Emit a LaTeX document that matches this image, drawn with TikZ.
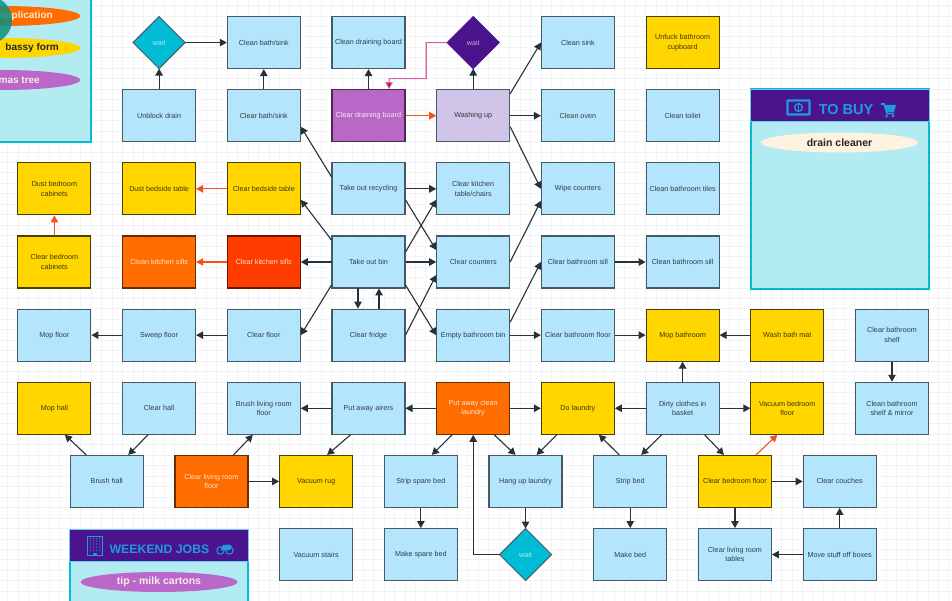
\documentclass[tikz,border=0pt]{standalone}
\usepackage{fontspec}
\setmainfont{Liberation Sans}
\usepackage{xcolor}
\usetikzlibrary{positioning,arrows.meta,shapes.geometric}
\definecolor{cgrid}{HTML}{F1F3F6}
\definecolor{cline}{HTML}{263238}
\definecolor{cblue}{HTML}{B3E5FC}
\definecolor{cedge}{HTML}{455A64}
\definecolor{ctext}{HTML}{2F3F47}
\definecolor{cyellow}{HTML}{FFD600}
\definecolor{corange}{HTML}{FF6D00}
\definecolor{cred}{HTML}{FF3D00}
\definecolor{cpurple}{HTML}{BA68C8}
\definecolor{clav}{HTML}{D1C4E9}
\definecolor{cteal}{HTML}{00BCD4}
\definecolor{cdeep}{HTML}{4A148C}
\definecolor{carrow}{HTML}{F4511E}
\definecolor{cpink}{HTML}{D4609F}
\definecolor{cpanel}{HTML}{B2EBF2}
\definecolor{cicon}{HTML}{1E9BDC}
\definecolor{ccream}{HTML}{FFF3E0}
\definecolor{cfab}{HTML}{0E8F80}
\tikzset{
  tb/.style  = {draw=cedge, fill=cblue, line width=1.15pt, minimum width=73pt, minimum height=52pt,
                inner sep=0pt, outer sep=.5pt, align=center,
                font=\fontsize{7.2}{9.7}\selectfont, text=ctext},
  ty/.style  = {tb, draw=black!70!cyellow, fill=cyellow, text=black!75!cyellow},
  tor/.style = {tb, draw=black!60!corange, fill=corange, text=orange!20},
  tr/.style  = {tb, draw=black!60!cred, fill=cred, text=orange!25},
  tp/.style  = {tb, draw=black!60!cpurple, fill=cpurple, text=purple!8},
  tl/.style  = {tb, fill=clav, text=black!80},
  w/.style   = {draw=cedge, fill=cteal, line width=1pt, diamond, aspect=1, inner sep=0pt,
                outer sep=0pt, minimum width=52pt, minimum height=52pt,
                font=\fontsize{7.2}{9.7}\selectfont, text=cpanel},
  wd/.style  = {w, draw=cdeep, fill=cdeep, text=cpurple!60},
  a/.style   = {-{Triangle[length=7pt,width=7.5pt]}, line width=1.1pt, draw=cline},
  ao/.style  = {-{Triangle[length=7pt,width=7.5pt]}, line width=1.1pt, draw=carrow},
  ap/.style  = {-{Triangle[length=7pt,width=7.5pt,fill=purple]}, line width=1.1pt, draw=cpink},
  panel/.style = {draw=cteal, fill=cpanel, line width=2pt, minimum width=178pt, outer sep=0pt},
  phead/.style = {draw=cyan!60, fill=cdeep, line width=.7pt, minimum width=179pt,
                  minimum height=32pt, outer sep=0pt},
  ptitle/.style = {text=cicon, inner sep=0pt},
  pill/.style = {ellipse, minimum width=157pt, minimum height=20pt, inner sep=0pt,
                 font=\fontsize{10.5}{12}\selectfont\bfseries},
  pilltext/.style = {anchor=east, inner sep=0pt, font=\fontsize{10}{12}\selectfont\bfseries},
  on grid,
  node distance = 73.14pt and 104.7pt,
  half/.style = {xshift=52.35pt},
  halfl/.style = {xshift=-52.35pt},
}
\begin{document}
\begin{tikzpicture}[x=1pt,y=1pt]

\useasboundingbox (0,0) rectangle (952,600);
\clip (0,0) rectangle (952,600);
\fill[white] (0,0) rectangle (952,600);
\draw[cgrid, line width=.9pt, step=10.46pt, xshift=7.5pt, yshift=8.7pt] (-20,-20) grid (950,600);

% ---- the row through the bin
\node[tb] (bin) at (368.5,338) {Take out bin};
\node[tb, right=of bin]        (counters)  {Clear counters};
\node[tb, right=of counters]   (bathsill)  {Clear bathroom sill};
\node[tb, right=of bathsill]   (bathsillc) {Clean bathroom sill};
\node[tr, left=of bin]         (ksills)    {Clear kitchen sills};
\node[tor, left=of ksills]     (ksillsc)   {Clean kitchen sills};
\node[ty, left=of ksillsc]     (bedcab)    {Clear bedroom\\cabinets};

% ---- upwards
\node[tb, above=of bin]        (recycle)   {Take out recycling};
\node[tb, above=of counters]   (kitchen)   {Clear kitchen\\table/chairs};
\node[tb, above=of bathsill]   (wipe)      {Wipe counters};
\node[tb, above=of bathsillc]  (tiles)     {Clean bathroom tiles};
\node[ty, above=of ksills]     (bedside)   {Clear bedside table};
\node[ty, above=of ksillsc]    (dustside)  {Dust bedside table};
\node[ty, above=of bedcab]     (dustcab)   {Dust bedroom\\cabinets};

\node[tp, above=of recycle]    (board)     {Clear draining board};
\node[tl, above=of kitchen]    (wash)      {Washing up};
\node[tb, above=of wipe]       (oven)      {Clean oven};
\node[tb, above=of tiles]      (toilet)    {Clean toilet};
\node[tb, above=of bedside]    (clearbath) {Clear bath/sink};
\node[tb, above=of dustside]   (unblock)   {Unblock drain};

\node[tb, above=of board]      (boardc)    {Clean draining board};
\node[wd, above=of wash]       (waitwash)  {wait};
\node[tb, above=of oven]       (sink)      {Clean sink};
\node[ty, above=of toilet]     (cupboard)  {Unfuck bathroom\\cupboard};
\node[tb, above=of clearbath]  (cleanbath) {Clean bath/sink};
\node[w,  above=of unblock]    (waitdrain) {wait};

% ---- downwards
\node[tb, below=of bin]        (fridge)    {Clear fridge};
\node[tb, below=of counters]   (emptybin)  {Empty bathroom bin};
\node[tb, below=of bathsill]   (bathfloor) {Clear bathroom floor};
\node[ty, below=of bathsillc]  (mopbath)   {Mop bathroom};
\node[ty, right=of mopbath]    (bathmat)   {Wash bath mat};
\node[tb, right=of bathmat]    (shelf)     {Clear bathroom\\shelf};
\node[tb, below=of ksills]     (floor)     {Clear floor};
\node[tb, left=of floor]       (sweep)     {Sweep floor};
\node[tb, left=of sweep]       (mopfloor)  {Mop floor};

\node[tb, below=of fridge]     (airers)    {Put away airers};
\node[tor, below=of emptybin]  (putaway)   {Put away clean\\laundry};
\node[ty, below=of bathfloor]  (laundry)   {Do laundry};
\node[tb, below=of mopbath]    (dirty)     {Dirty clothes in\\basket};
\node[ty, below=of bathmat]    (vacbed)    {Vacuum bedroom\\floor};
\node[tb, below=of shelf]      (mirror)    {Clean bathroom\\shelf \& mirror};
\node[tb, below=of floor]      (brushroom) {Brush living room\\floor};
\node[tb, below=of sweep]      (clearhall) {Clear hall};
\node[ty, below=of mopfloor]   (mophall)   {Mop hall};

% ---- the two rows set half a column across
\node[tb, below=of mophall, half]    (brushhall) {Brush hall};
\node[tor, below=of brushroom, halfl] (clearroom) {Clear living room\\floor};
\node[ty, below=of airers, halfl]    (rug)       {Vacuum rug};
\node[tb, below=of airers, half]     (stripspare) {Strip spare bed};
\node[tb, below=of putaway, half]    (hang)      {Hang up laundry};
\node[tb, below=of laundry, half]    (stripbed)  {Strip bed};
\node[ty, below=of dirty, half]      (bedfloor)  {Clear bedroom floor};
\node[tb, right=of bedfloor]         (couches)   {Clear couches};

\node[tb, below=of rug]        (stairs)    {Vacuum stairs};
\node[tb, below=of stripspare] (makespare) {Make spare bed};
\node[w,  below=of hang]       (waitdry)   {wait};
\node[tb, below=of stripbed]   (makebed)   {Make bed};
\node[tb, below=of bedfloor]   (tables)    {Clear living room\\tables};
\node[tb, below=of couches]    (boxes)     {Move stuff off boxes};

% ---- top rows
\draw[a] (unblock) -- (waitdrain);
\draw[a] (waitdrain) -- (cleanbath);
\draw[a] (clearbath) -- (cleanbath);
\draw[a] (board) -- (boardc);
\draw[ao] (board) -- (wash);
\draw[a] (wash) -- (waitwash);
\draw[ap] (waitwash.west) -- ++(-21,0) |- ++(-37,-36) -- ([xshift=20.5pt]board.north);
\draw[a] ([yshift=22pt]wash.east) -- (sink.west);
\draw[a] (wash) -- (oven);
\draw[a] ([yshift=-11pt]wash.east) -- (wipe.west);

% ---- around the bin
\draw[a] ([yshift=12pt]recycle.west) -- ([yshift=-11pt]clearbath.east);
\draw[a] (recycle) -- (kitchen);
\draw[a] ([yshift=-11pt]recycle.east) -- ([yshift=12pt]counters.west);
\draw[a] ([yshift=22pt]bin.west) -- ([yshift=-11pt]bedside.east);
\draw[a] (bin) -- (ksills);
\draw[a] ([yshift=-23pt]bin.west) -- (floor.east);
\draw[a] ([yshift=10pt]bin.east) -- ([yshift=-11pt]kitchen.west);
\draw[a] (bin) -- (counters);
\draw[a] ([yshift=-23pt]bin.east) -- (emptybin.west);
\draw[a] ([xshift=-10.5pt]bin.south) -- ([xshift=-10.5pt]fridge.north);
\draw[a] ([xshift=10.5pt]fridge.north) -- ([xshift=10.5pt]bin.south);
\draw[a] (fridge.east) -- ([yshift=-13pt]counters.west);
\draw[a] (counters.east) -- ([yshift=-12pt]wipe.west);
\draw[a] ([yshift=13pt]emptybin.east) -- (bathsill.west);
\draw[a] (emptybin) -- (bathfloor);
\draw[a] (bathsill) -- (bathsillc);

% ---- left and right of the middle
\draw[ao] (bedside) -- (dustside);
\draw[ao] (bedcab) -- (dustcab);
\draw[ao] (ksills) -- (ksillsc);
\draw[a] (floor) -- (sweep);
\draw[a] (sweep) -- (mopfloor);
\draw[a] (bathfloor) -- (mopbath);
\draw[a] (bathmat) -- (mopbath);
\draw[a] (dirty) -- (mopbath);
\draw[a] (shelf) -- (mirror);

% ---- laundry row
\draw[a] (airers) -- (brushroom);
\draw[a] (putaway) -- (airers);
\draw[a] (putaway) -- (laundry);
\draw[a] (dirty) -- (laundry);
\draw[a] (dirty) -- (vacbed);

% ---- slanting down to the half column rows
\draw[a] ([xshift=-20.5pt]brushhall.north) -- ([xshift=10.5pt]mophall.south);
\draw[a] ([xshift=-11pt]clearhall.south) -- ([xshift=21.5pt]brushhall.north);
\draw[a] ([xshift=22pt]clearroom.north) -- ([xshift=-11pt]brushroom.south);
\draw[a] ([xshift=-18pt]airers.south) -- ([xshift=11pt]rug.north);
\draw[a] ([xshift=-21pt]putaway.south) -- ([xshift=11pt]stripspare.north);
\draw[a] ([xshift=21pt]putaway.south) -- ([xshift=-10pt]hang.north);
\draw[a] ([xshift=-21pt]laundry.south) -- ([xshift=11pt]hang.north);
\draw[a] ([xshift=-11pt]stripbed.north) -- ([xshift=21pt]laundry.south);
\draw[a] ([xshift=-21pt]dirty.south) -- ([xshift=11pt]stripbed.north);
\draw[a] ([xshift=22pt]dirty.south) -- ([xshift=-11pt]bedfloor.north);
\draw[ao] ([xshift=21pt]bedfloor.north) -- ([xshift=-10pt]vacbed.south);

% ---- bottom rows
\draw[a] (clearroom) -- (rug);
\draw[a] (stripspare) -- (makespare);
\draw[a] (hang) -- (waitdry);
\draw[a] (waitdry.west) -| (putaway.south);
\draw[a] (stripbed) -- (makebed);
\draw[a] (bedfloor) -- (couches);
\draw[a] (bedfloor) -- (tables);
\draw[a] (boxes) -- (tables);
\draw[a] (boxes) -- (couches);

% ---- list cut off at the top left
\node[panel, minimum height=182pt] (notes) at (2,549) {};
\node[pill, fill=corange] (pillvisa) at (2,584) {};
\node[pill, fill=cyellow] (pillform) at (2,552) {};
\node[pill, fill=cpurple] (pilltree) at (2,520) {};
\node[pilltext, text=orange!20] (textvisa) at (53,584) {application};
\node[pilltext, text=black!85] (textform) at (59,552) {bassy form};
\node[pilltext, text=purple!8] (texttree) at (40,520) {mas tree};
\fill[cfab, opacity=.85] (-12,580) circle (24);

% ---- to buy list
\node[panel, minimum height=200pt] (buy) at (839.5,411) {};
\node[phead] (buyhead) at (839.5,495) {};
\node[ptitle, font=\fontsize{14.5}{16}\selectfont\bfseries] (buytitle) at (846,490.5) {TO BUY};
\node[pill, fill=ccream, text=black!85] (drain) at (839.5,457.5) {drain cleaner};
% banknote
\draw[cicon, line width=2.4pt, rounded corners=.6pt] (787.5,485.5) rectangle (809.5,499.5);
\fill[cicon] (798.5,492.5) circle (4.6);
\fill[cdeep] (798.5,492.5) circle (3);
\fill[cicon] (798,489.5) rectangle (799.2,495.5);
% cart
\draw[cicon, line width=1.6pt] (881,496) -- (884,496) -- (887,486.5) -- (894,486.5);
\fill[cicon] (884.5,495) -- (896,495) -- (894,488) -- (886.5,488) -- cycle;
\fill[cicon] (886.5,484) circle (1.5) (893,484) circle (1.5);

% ---- weekend list
\node[panel, minimum height=100pt] (jobs) at (159,20) {};
\node[phead] (jobshead) at (159,55) {};
\node[ptitle, font=\fontsize{12.3}{13}\selectfont\bfseries] (jobstitle) at (159.5,51) {WEEKEND JOBS};
\node[pill, fill=cpurple, text=purple!8] (tip) at (159,18) {tip - milk cartons};
% building
\draw[cicon, line width=1pt] (87.5,44.5) rectangle (102.5,63.5);
\foreach \x in {90.5,93.5,96.5,99.5}
  \foreach \y in {50,53,56,59,61.5}
    \fill[cicon] (\x,\y) circle (.6);
\fill[cicon] (93,44.5) rectangle (97,47.5);
% bike
\draw[cicon, line width=1pt] (220.5,49.5) circle (3.7) (229.5,49.5) circle (3.7);
\fill[cicon] (220.5,49.5) -- (223,55) -- (230,55.5) -- (232,53) -- (229.5,49.5) -- (226,50) -- cycle;

\end{tikzpicture}
\end{document}
